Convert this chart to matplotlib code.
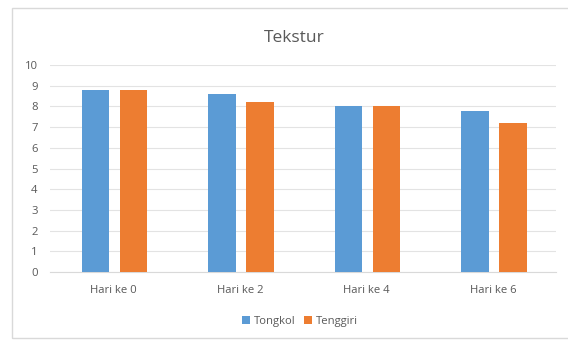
import numpy as np
import matplotlib.pyplot as plt
from matplotlib.patches import Rectangle

categories = ["Hari ke 0", "Hari ke 2", "Hari ke 4", "Hari ke 6"]
tongkol = [8.8, 8.6, 8.0, 7.8]
tenggiri = [8.8, 8.2, 8.0, 7.2]
yticks = list(range(0, 11))

plt.rcParams['font.family'] = ['Open Sans', 'DejaVu Sans']
text_color = '#595959'

fig = plt.figure(figsize=(5.68, 3.41), dpi=100)
fig.patch.set_facecolor('white')
# chart frame
fig.patches.append(Rectangle((12 / 568, 3 / 341), 1.0, 330 / 341, transform=fig.transFigure,
                             fill=False, edgecolor='#d9d9d9', linewidth=1.0))

ax = fig.add_axes([0.088, 0.2023, 0.891, 0.607])
x = np.arange(len(categories))
w = 0.22
ax.bar(x - 0.14, tongkol, w, color='#5B9BD5', label='Tongkol', zorder=3)
ax.bar(x + 0.16, tenggiri, w, color='#ED7D31', label='Tenggiri', zorder=3)

ax.set_xlim(-0.5, 3.5)
ax.set_ylim(0, 10)
ax.set_yticks(yticks)
ax.set_xticks(x)
ax.set_xticklabels(categories)
ax.grid(axis='y', color='#e3e3e3', linewidth=0.8, zorder=0)
for s in ax.spines.values():
    s.set_visible(False)
ax.spines['bottom'].set_visible(True)
ax.spines['bottom'].set_color('#d9d9d9')
ax.tick_params(length=0, colors=text_color, labelsize=8.1)
ax.tick_params(axis='x', pad=9)
ax.tick_params(axis='y', pad=9)

fig.text(0.518, 0.89, "Tekstur", ha='center', va='center', fontsize=12.5, color=text_color)
fig.legend(loc='center', bbox_to_anchor=(0.528, 0.058), ncol=2, frameon=False,
           fontsize=8.1, handlelength=0.7, handleheight=0.7, handletextpad=0.3,
           columnspacing=0.8, labelcolor=text_color)

fig.savefig('out.png', dpi=100)
